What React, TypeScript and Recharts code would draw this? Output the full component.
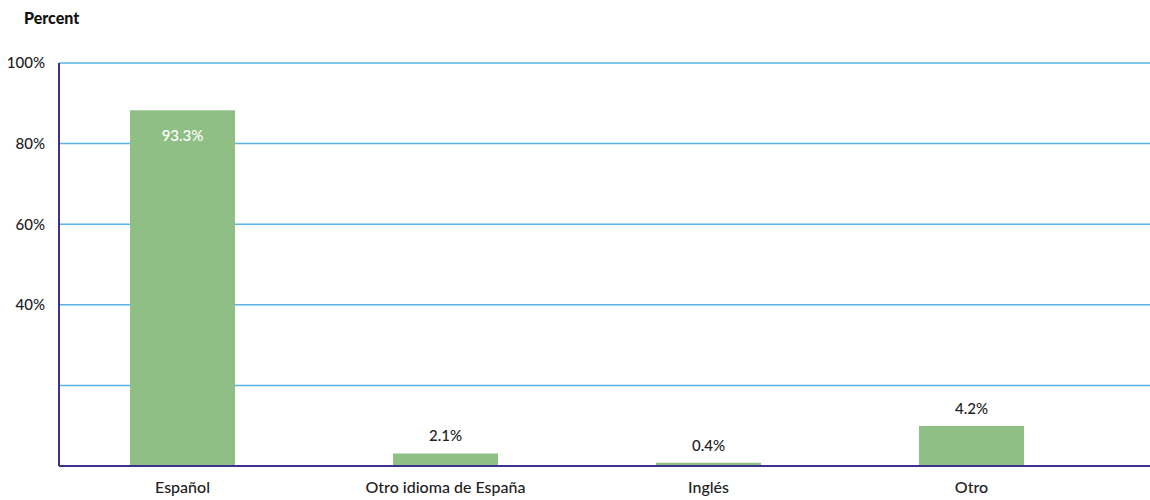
import { BarChart, Bar, XAxis, YAxis, CartesianGrid, LabelList } from "recharts";

const categories = ["Español", "Otro idioma de España", "Inglés", "Otro"];
// bar heights as drawn in the picture (percent of axis)
const barValues = [88.3, 3.1, 0.8, 9.9];
// value labels printed on the bars
const valueLabels = ["93.3%", "2.1%", "0.4%", "4.2%"];
const yTicks = [0, 20, 40, 60, 80, 100];
const yTickLabels: Record<number, string> = { 40: "40%", 60: "60%", 80: "80%", 100: "100%" };

const data = categories.map((name, i) => ({
  name,
  value: barValues[i],
  label: valueLabels[i],
}));

const FONT = "Lato, 'Noto Sans', sans-serif";

function ValueLabel(props: any) {
  const { x, y, width, value, index } = props;
  const inside = index === 0;
  return (
    <text
      x={x + width / 2}
      y={inside ? y + 27 : y - 16}
      textAnchor="middle"
      dominantBaseline="middle"
      fill={inside ? "#ffffff" : "#222222"}
      fontSize={15}
      fontWeight={500}
      fontFamily={FONT}
    >
      {value}
    </text>
  );
}

export default function App() {
  return (
    <div style={{ position: "absolute", left: 0, top: 0, width: 1150, height: 500, background: "#fff" }}>
      <div
        style={{
          position: "absolute",
          left: 24,
          top: 8,
          fontFamily: FONT,
          fontWeight: 900,
          fontSize: 16,
          color: "#111",
        }}
      >
        Percent
      </div>
      <BarChart
        width={1150}
        height={500}
        data={data}
        margin={{ top: 63, right: 0, bottom: 0, left: 0 }}
      >
        <CartesianGrid vertical={false} stroke="#5ab3e3" strokeWidth={1.5} />
        <XAxis
          dataKey="name"
          padding={{ left: -8, right: 47 }}
          axisLine={{ stroke: "#3d3190", strokeWidth: 2 }}
          tickLine={false}
          tickSize={0}
          tickMargin={16}
          tick={{ fill: "#222", fontSize: 16, fontWeight: 500, fontFamily: FONT }}
          height={34}
          interval={0}
        />
        <YAxis
          width={59}
          domain={[0, 100]}
          ticks={yTicks}
          interval={0}
          tickFormatter={(v: number) => yTickLabels[v] ?? ""}
          axisLine={{ stroke: "#3d3190", strokeWidth: 2 }}
          tickLine={false}
          tickSize={0}
          tickMargin={14}
          tick={{ fill: "#222", fontSize: 15, fontWeight: 500, fontFamily: FONT }}
        />
        <Bar dataKey="value" fill="#8fbf85" barSize={105} isAnimationActive={false}>
          <LabelList dataKey="label" content={ValueLabel} />
        </Bar>
      </BarChart>
    </div>
  );
}
